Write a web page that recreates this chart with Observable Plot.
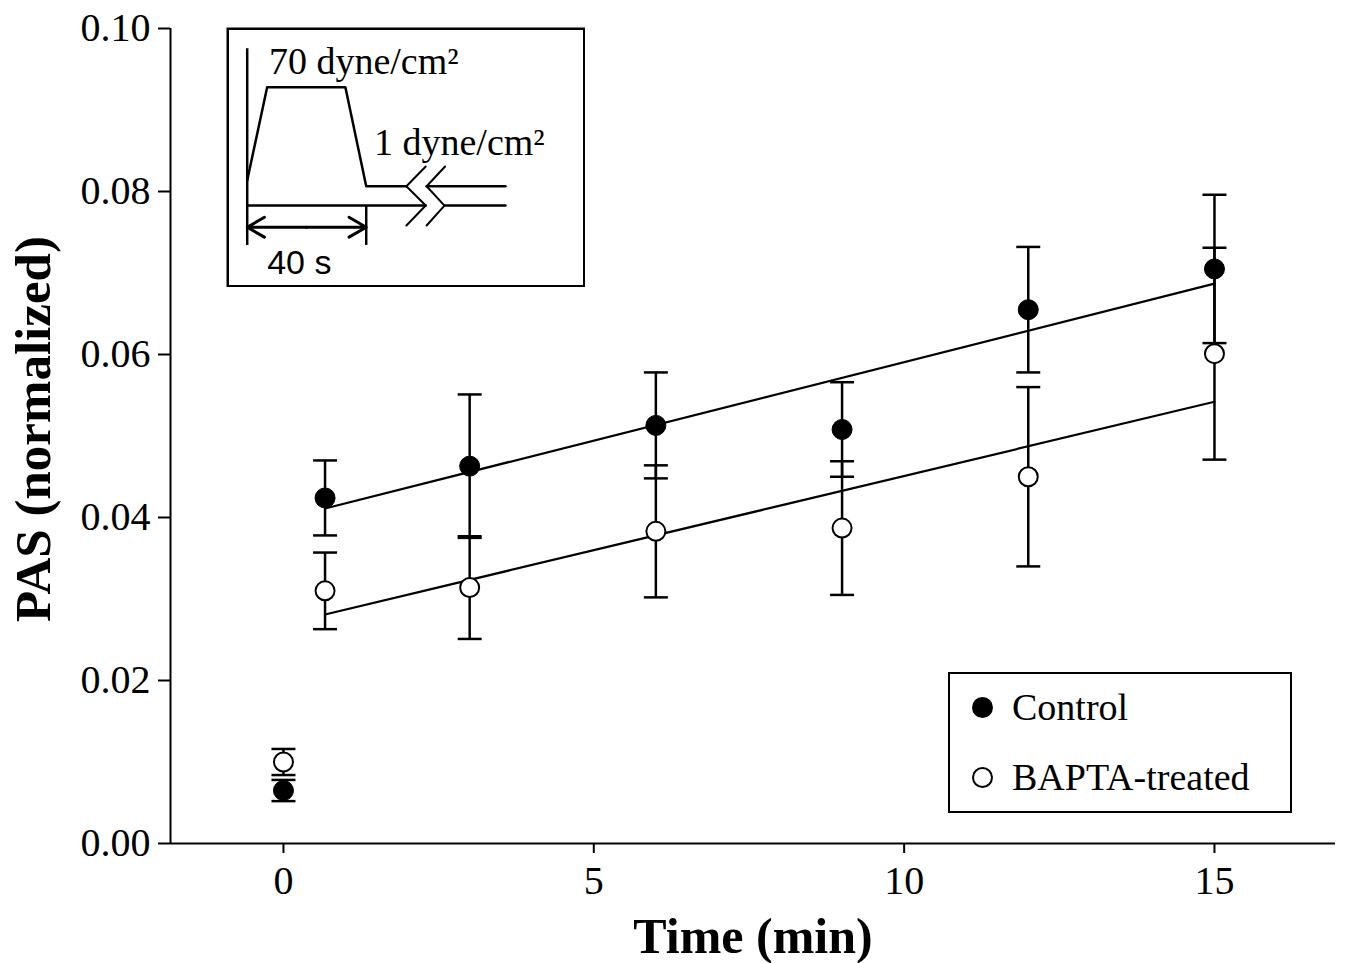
<!DOCTYPE html>
<html>
<head>
<meta charset="utf-8">
<script src="https://cdn.jsdelivr.net/npm/d3@7"></script>
<script src="https://cdn.jsdelivr.net/npm/@observablehq/plot@0.6"></script>
<style>
  html, body { margin: 0; padding: 0; background: #fff; }
  #wrap { position: relative; width: 1346px; height: 963px; overflow: hidden; }
  #chart svg, #inset svg { display: block; }
  #inset { position: absolute; left: 226px; top: 27px; }
  #legend {
    position: absolute; left: 948px; top: 672px; width: 344px; height: 141px;
    box-sizing: border-box; border: 2px solid #000; background: #fff;
    font-family: "Liberation Serif", "Times New Roman", serif; font-size: 38px; color: #000;
  }
  #legend .row { position: absolute; left: 22px; height: 40px; display: flex; align-items: center; line-height: 1; }
  #legend .mk { width: 21px; height: 21px; border-radius: 50%; box-sizing: border-box; border: 2px solid #000; margin-right: 19px; }
</style>
</head>
<body>
<div id="wrap">
  <div id="chart"></div>
  <div id="inset"></div>
  <div id="legend"></div>
</div>
<script>
// ---------- data ----------
const time = [0, 0.67, 3, 6, 9, 12, 15];                     // min
const controlMean = [0.0065, 0.0424, 0.0463, 0.0513, 0.0508, 0.0655, 0.0705];
const controlErr  = [0.0013, 0.0046, 0.0088, 0.0065, 0.0058, 0.0077, 0.0091];
const baptaMean   = [0.0100, 0.0310, 0.0314, 0.0383, 0.0387, 0.0450, 0.0601];
const baptaErr    = [0.0016, 0.0047, 0.0063, 0.0081, 0.0082, 0.0110, 0.0130];
const fitTime     = [0.67, 15];
const controlFit  = [0.0411, 0.0687];
const baptaFit    = [0.0281, 0.0542];
const seriesNames = ["Control", "BAPTA-treated"];
const xTicks = [0, 5, 10, 15];
const yTicks = [0, 0.02, 0.04, 0.06, 0.08, 0.10];
const xLabel = "Time (min)";
const yLabel = "PAS (normalized)";

// inset schematic: shear-stress protocol (time in s, stress level in dyne/cm2)
const insetProfileT = [0, 6.7, 33, 40, 53.5];
const insetProfileS = [5, 70, 70, 1, 1];
const insetTailT = [60.3, 86.8];
const insetTailS = [1, 1];
const insetAxisT1 = [0, 60];
const insetAxisT2 = [66.3, 86.8];
const insetAxisLevel = -12.5;
const insetBreak1T = [60, 53.5, 60, 53.5];
const insetBreak2T = [66.5, 60.3, 66.3, 60.3];
const insetBreakS = [14.7, 1, -12.5, -26.4];
const insetVertS = [96.8, -40.3];
const insetTickS = [-12.5, -40.3];
const insetSpan = [0, 40];
const insetArrowLevel = -27.6;
const insetTexts = ["70 dyne/cm²", "1 dyne/cm²", "40 s"];
const insetTextT = [7.3, 42.6, 6.7];
const insetTextS = [79.3, 22.4, -60.1];

// ---------- main chart ----------
const xDomain = [-1.82, 16.95];
const yDomain = [0, 0.10];
const control = time.map((t, i) => ({t, m: controlMean[i], e: controlErr[i]}));
const bapta = time.map((t, i) => ({t, m: baptaMean[i], e: baptaErr[i]}));
const controlLine = fitTime.map((t, i) => ({t, v: controlFit[i]}));
const baptaLine = fitTime.map((t, i) => ({t, v: baptaFit[i]}));

const cap = { draw(ctx, size) { const w = Math.sqrt(size / Math.PI); ctx.moveTo(-w, 0); ctx.lineTo(w, 0); } };
const serif = "'Liberation Serif', 'Times New Roman', serif";

function errorMarks(rows) {
  return [
    Plot.ruleX(rows, {x: "t", y1: d => d.m - d.e, y2: d => d.m + d.e, stroke: "black", strokeWidth: 2.5}),
    Plot.dot(rows, {x: "t", y: d => d.m + d.e, symbol: cap, r: 12, stroke: "black", strokeWidth: 2.5, fill: "none"}),
    Plot.dot(rows, {x: "t", y: d => d.m - d.e, symbol: cap, r: 12, stroke: "black", strokeWidth: 2.5, fill: "none"})
  ];
}

const main = Plot.plot({
  width: 1346, height: 963,
  marginLeft: 170, marginRight: 11, marginTop: 28, marginBottom: 120,
  style: {fontFamily: serif, fontSize: "40px", color: "black", background: "white"},
  x: {domain: xDomain, label: null},
  y: {domain: yDomain, label: null},
  marks: [
    Plot.ruleY([yDomain[0]], {stroke: "black", strokeWidth: 2, dx: 0}),
    Plot.ruleX([xDomain[0]], {stroke: "black", strokeWidth: 2}),
    Plot.axisX(xTicks, {tickSize: 10, tickPadding: 12, strokeWidth: 2, label: null}),
    Plot.axisY(yTicks, {tickSize: 12, tickPadding: 8, strokeWidth: 2, tickFormat: d3.format(".2f"), label: null}),
    ...errorMarks(control),
    ...errorMarks(bapta),
    Plot.line(controlLine, {x: "t", y: "v", stroke: "black", strokeWidth: 2.2}),
    Plot.line(baptaLine, {x: "t", y: "v", stroke: "black", strokeWidth: 2.2}),
    Plot.dot(bapta, {x: "t", y: "m", r: 9.5, fill: "white", stroke: "black", strokeWidth: 2}),
    Plot.dot(control, {x: "t", y: "m", r: 10, fill: "black", stroke: "black", strokeWidth: 1}),
    Plot.text([xLabel], {text: d => d, frameAnchor: "bottom", textAnchor: "middle", lineAnchor: "bottom", dy: 109, fontSize: 50, fontWeight: "bold"}),
    Plot.text([yLabel], {text: d => d, frameAnchor: "left", textAnchor: "middle", lineAnchor: "bottom", rotate: -90, dx: -121, dy: -7, fontSize: 51, fontWeight: "bold"})
  ]
});
document.getElementById("chart").appendChild(main);

// ---------- inset ----------
const profile = insetProfileT.map((t, i) => ({t, s: insetProfileS[i]}));
const tail = insetTailT.map((t, i) => ({t, s: insetTailS[i]}));
const break1 = insetBreak1T.map((t, i) => ({t, s: insetBreakS[i]}));
const break2 = insetBreak2T.map((t, i) => ({t, s: insetBreakS[i]}));
const axis1 = insetAxisT1.map(t => ({t, s: insetAxisLevel}));
const axis2 = insetAxisT2.map(t => ({t, s: insetAxisLevel}));
const mid = (insetSpan[0] + insetSpan[1]) / 2;
const arrows = insetSpan.map(t => ({x1: mid, x2: t, y: insetArrowLevel}));
const labels = insetTexts.map((txt, i) => ({txt, t: insetTextT[i], s: insetTextS[i]}));

const inset = Plot.plot({
  width: 359, height: 260, margin: 0,
  style: {fontFamily: serif, fontSize: "38px", color: "black", background: "white"},
  x: {domain: [-6.96, 113.7], axis: null},
  y: {domain: [-69.6, 111.6], axis: null},
  marks: [
    Plot.frame({stroke: "black", strokeWidth: 2.5, inset: 1.25}),
    Plot.ruleX([insetSpan[0]], {y1: insetVertS[0], y2: insetVertS[1], stroke: "black", strokeWidth: 2.5}),
    Plot.ruleX([insetSpan[1]], {y1: insetTickS[0], y2: insetTickS[1], stroke: "black", strokeWidth: 2.5}),
    Plot.line(profile, {x: "t", y: "s", stroke: "black", strokeWidth: 2.5}),
    Plot.line(tail, {x: "t", y: "s", stroke: "black", strokeWidth: 2.5}),
    Plot.line(axis1, {x: "t", y: "s", stroke: "black", strokeWidth: 2.5}),
    Plot.line(axis2, {x: "t", y: "s", stroke: "black", strokeWidth: 2.5}),
    Plot.line(break1, {x: "t", y: "s", stroke: "black", strokeWidth: 2}),
    Plot.line(break2, {x: "t", y: "s", stroke: "black", strokeWidth: 2}),
    Plot.arrow(arrows, {x1: "x1", x2: "x2", y1: "y", y2: "y", stroke: "black", strokeWidth: 3, headLength: 12}),
    Plot.text(labels.slice(0, 2), {x: "t", y: "s", text: "txt", textAnchor: "start", lineAnchor: "bottom", fontSize: 38}),
    Plot.text(labels.slice(2), {x: "t", y: "s", text: "txt", textAnchor: "start", lineAnchor: "bottom", fontSize: 34, fontFamily: "'Liberation Sans', Arial, sans-serif"})
  ]
});
document.getElementById("inset").appendChild(inset);

// ---------- legend ----------
const legend = document.getElementById("legend");
const fills = ["#000", "#fff"];
const rowTops = [13, 83];
seriesNames.forEach((name, i) => {
  const row = document.createElement("div");
  row.className = "row";
  row.style.top = rowTops[i] + "px";
  const mk = document.createElement("span");
  mk.className = "mk";
  mk.style.background = fills[i];
  const tx = document.createElement("span");
  tx.textContent = name;
  row.appendChild(mk); row.appendChild(tx);
  legend.appendChild(row);
});
</script>
</body>
</html>
